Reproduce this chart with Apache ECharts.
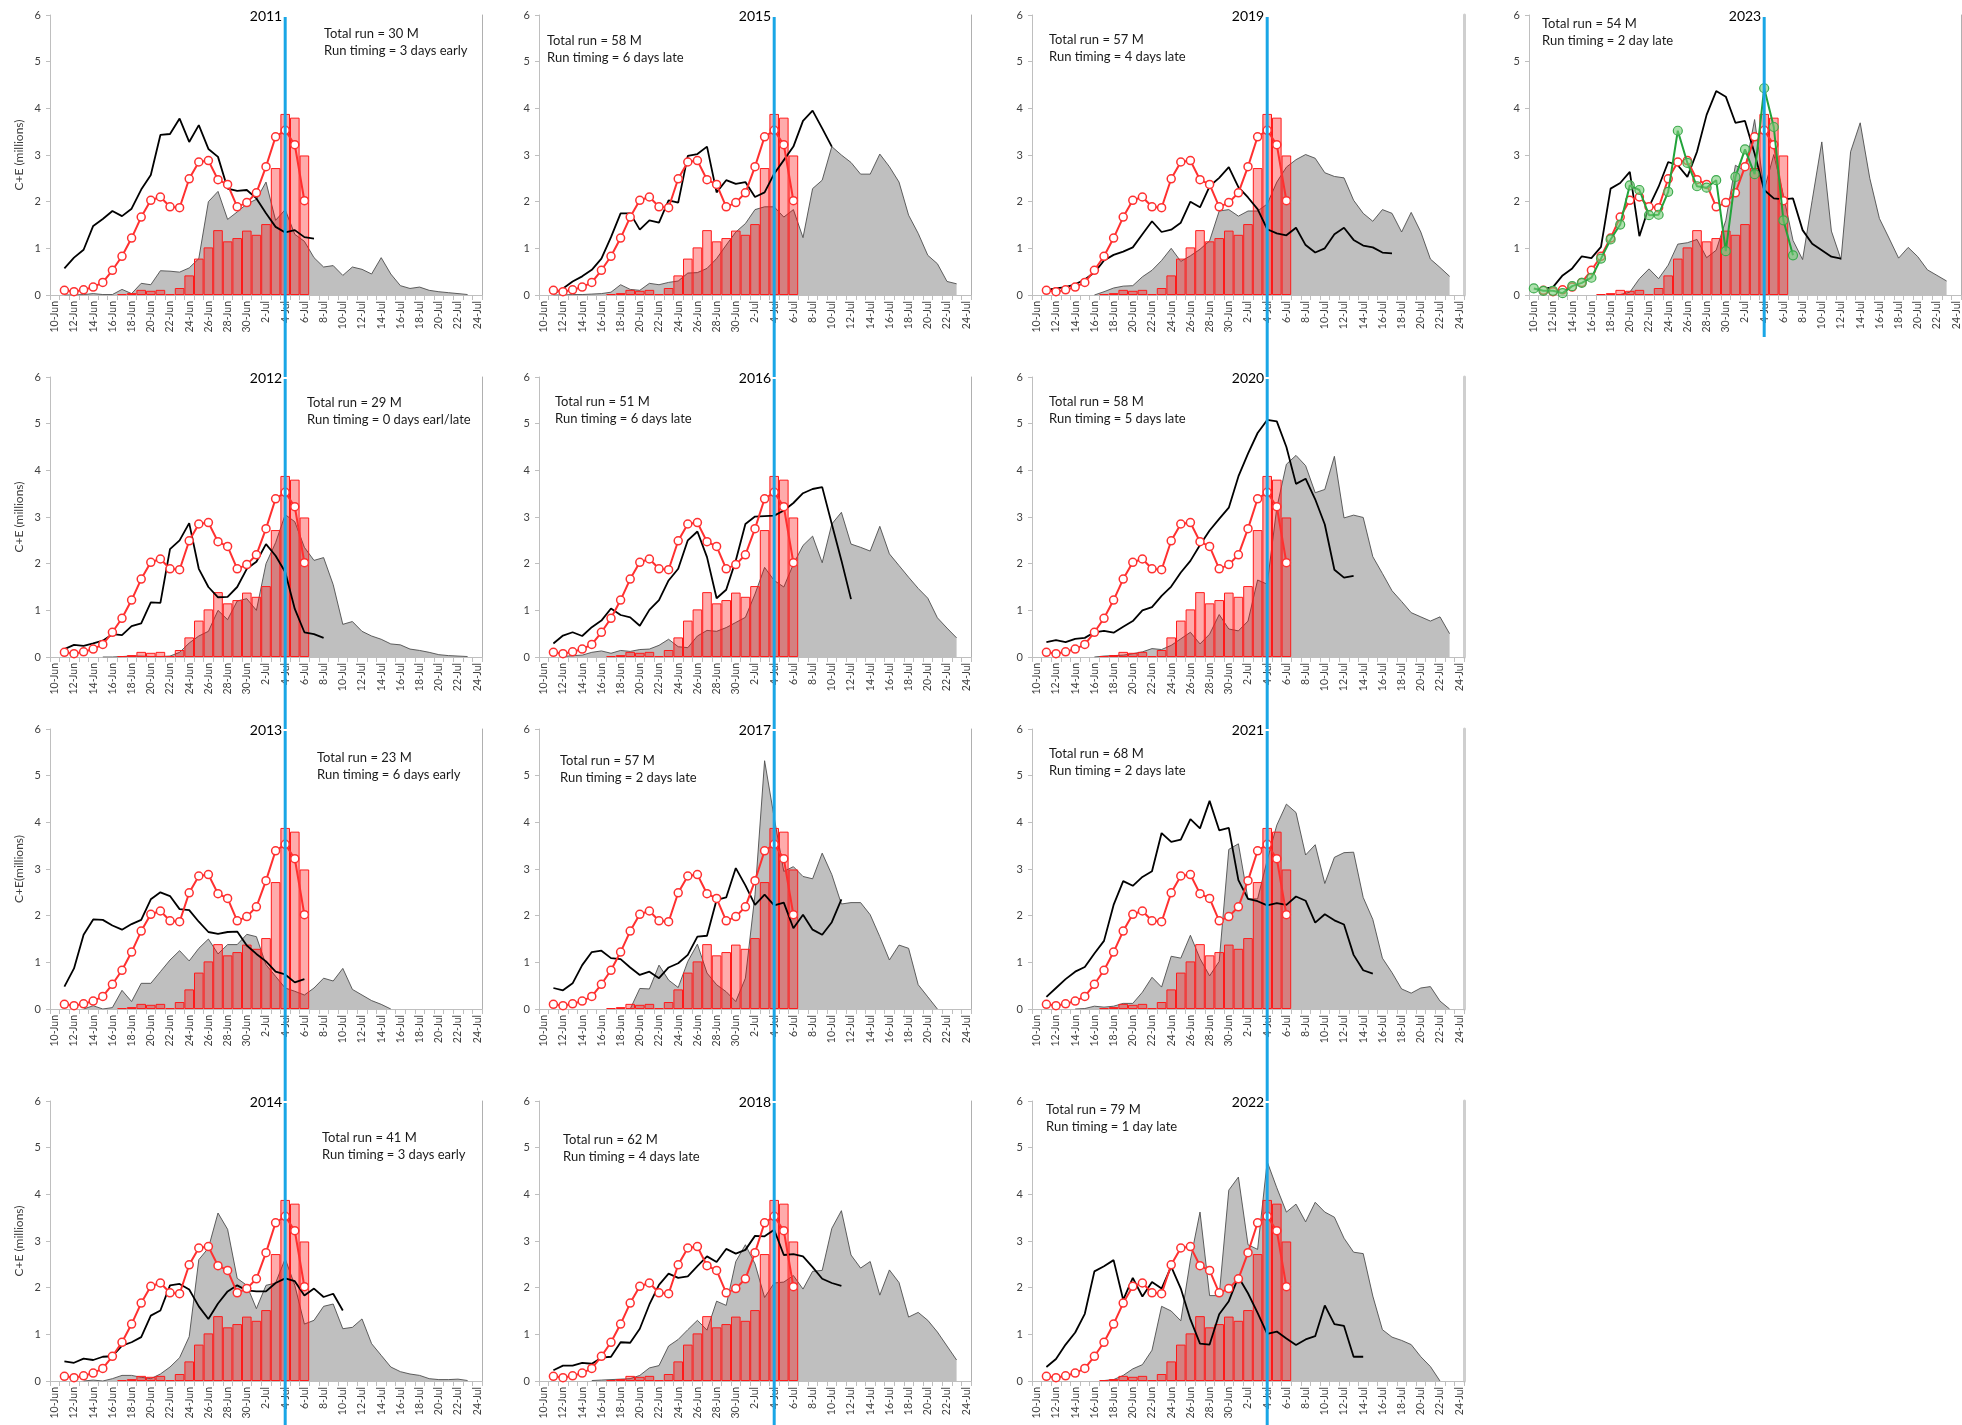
<!DOCTYPE html>
<html>
<head>
<meta charset="utf-8">
<script src="https://cdn.jsdelivr.net/npm/echarts@6/dist/echarts.min.js"></script>
<style>
html,body{margin:0;padding:0;background:#fff;}
#chart{width:1962px;height:1425px;}
</style>
</head>
<body>
<div id="chart"></div>
<script>
// ---------------- DATA ----------------
const categories = ['10-Jun','11-Jun','12-Jun','13-Jun','14-Jun','15-Jun','16-Jun','17-Jun','18-Jun','19-Jun','20-Jun','21-Jun','22-Jun','23-Jun','24-Jun','25-Jun','26-Jun','27-Jun','28-Jun','29-Jun','30-Jun','1-Jul','2-Jul','3-Jul','4-Jul','5-Jul','6-Jul','7-Jul','8-Jul','9-Jul','10-Jul','11-Jul','12-Jul','13-Jul','14-Jul','15-Jul','16-Jul','17-Jul','18-Jul','19-Jul','20-Jul','21-Jul','22-Jul','23-Jul','24-Jul'];
const refDate = '4-Jul';
const yMin = 0, yMax = 6, yStep = 1;

// average bars (same in every panel)
const barAvg = [null,null,null,null,null,null,null,0.02,0.04,0.11,0.09,0.11,0.02,0.15,0.42,0.78,1.02,1.39,1.15,1.22,1.38,1.29,1.52,2.72,3.88,3.80,2.99];
// average line with open circles (same in every panel)
const redAvg = [null,0.10,0.07,0.11,0.17,0.27,0.53,0.83,1.22,1.67,2.03,2.10,1.89,1.87,2.49,2.85,2.88,2.47,2.37,1.89,1.98,2.19,2.75,3.39,3.53,3.22,2.02];

const grey2011 = [null,0,0,0.01,0.03,0.01,0.01,0.12,0.03,0.25,0.22,0.52,0.51,0.49,0.58,0.78,2.0,2.22,1.62,1.78,1.95,2.05,2.42,1.6,1.83,1.3,1.15,0.8,0.6,0.63,0.42,0.6,0.55,0.45,0.8,0.45,0.2,0.14,0.17,0.1,0.07,0.05,0.03,0.01];
const black2011 = [null,0.57,0.80,0.97,1.48,1.63,1.80,1.69,1.85,2.26,2.57,3.43,3.45,3.78,3.28,3.64,3.13,2.96,2.28,2.23,2.25,2.07,1.75,1.46,1.34,1.39,1.24,1.21];

const grey2012 = [null,null,null,null,null,0,0,0.01,0.02,0.02,0.01,0.01,0.02,0.1,0.3,0.45,0.55,1.0,0.8,1.2,1.25,1.0,2.0,2.45,3.05,2.9,2.35,2.07,2.13,1.55,0.7,0.76,0.55,0.45,0.38,0.28,0.26,0.17,0.14,0.1,0.05,0.03,0.02,0.01];
const black2012 = [null,0.17,0.26,0.24,0.29,0.35,0.49,0.47,0.66,0.72,1.17,1.16,2.31,2.5,2.87,1.89,1.5,1.28,1.29,1.5,1.89,2.04,2.42,2.17,1.82,1.03,0.53,0.49,0.41];

const grey2013 = [null,null,null,0,0.07,0,0.03,0.4,0.16,0.55,0.55,0.8,1.05,1.25,1.03,1.3,1.5,1.18,1.38,1.38,1.6,1.55,0.95,0.7,0.45,0.38,0.3,0.45,0.66,0.6,0.87,0.42,0.3,0.18,0.1,0];
const black2013 = [null,0.48,0.87,1.59,1.92,1.91,1.79,1.7,1.82,1.91,2.35,2.5,2.42,2.14,2.12,1.87,1.65,1.61,1.65,1.66,1.36,1.18,1.02,0.8,0.74,0.57,0.64];

const grey2014 = [null,null,null,0,0.02,0,0.05,0.12,0.12,0.08,0.05,0.15,0.3,0.5,0.95,2.6,2.85,3.6,3.25,2.2,2.05,1.55,2.05,2.1,2.62,2.05,1.22,1.3,1.6,1.65,1.12,1.15,1.33,0.8,0.55,0.3,0.2,0.15,0.12,0.05,0.03,0.03,0.04,0.01];
const black2014 = [null,0.42,0.39,0.48,0.45,0.52,0.53,0.76,0.83,0.94,1.4,1.51,2.05,2.08,1.96,1.6,1.33,1.66,1.92,2.05,1.94,1.92,1.92,2.1,2.2,2.14,1.83,1.98,1.8,1.87,1.51];

const grey2015 = [null,0,0,0.01,0.01,0.02,0.03,0.06,0.22,0.12,0.1,0.25,0.22,0.27,0.3,0.47,0.48,0.57,0.78,1.07,1.35,1.53,1.83,1.89,1.89,1.67,1.83,1.23,2.28,2.46,3.18,3.0,2.84,2.59,2.59,3.02,2.75,2.42,1.71,1.32,0.85,0.67,0.29,0.24];
const black2015 = [null,0.03,0.14,0.29,0.4,0.54,0.78,1.24,1.75,1.75,1.4,1.6,1.55,2.03,1.98,2.98,3.02,3.18,2.2,2.46,2.38,2.42,2.1,2.2,2.6,2.89,3.18,3.73,3.95,3.57,3.18];

const grey2016 = [null,null,0.01,0.03,0.04,0.1,0.13,0.08,0.14,0.12,0.16,0.17,0.25,0.38,0.22,0.2,0.45,0.57,0.55,0.63,0.74,0.85,1.35,1.92,1.64,1.5,1.99,2.39,2.59,2.02,2.85,3.1,2.42,2.35,2.27,2.8,2.21,1.96,1.71,1.47,1.26,0.84,0.62,0.41];
const black2016 = [null,0.29,0.46,0.53,0.45,0.64,0.78,1.04,0.9,0.85,0.67,1.01,1.22,1.64,1.89,2.5,2.69,2.14,1.26,1.44,2.07,2.85,3.01,3.02,3.03,3.14,3.3,3.51,3.6,3.64,2.85,2.07,1.24];

const grey2017 = [null,null,null,null,null,null,null,null,null,0,0.44,0.43,0.94,0.62,0.46,1.02,1.39,0.77,0.52,0.37,0.16,0.66,2.45,5.32,4.1,2.95,3.05,2.84,2.79,3.34,2.88,2.25,2.28,2.28,2.02,1.55,1.05,1.37,1.3,0.52,0.26,0];
const black2017 = [null,0.45,0.4,0.55,0.94,1.22,1.25,1.09,1.07,0.89,0.73,0.8,0.66,0.89,0.98,1.16,1.55,1.57,2.34,2.39,3.02,2.65,2.23,2.45,2.22,2.28,1.73,2.02,1.7,1.59,1.86,2.35];

const grey2018 = [null,null,null,null,null,0.01,0.02,0.03,0.04,0.05,0.12,0.28,0.33,0.75,0.89,1.1,1.3,1.09,1.71,1.62,2.56,2.92,2.51,1.79,2.1,2.12,2.26,1.97,2.35,2.37,3.27,3.65,2.7,2.42,2.56,1.84,2.38,2.11,1.37,1.47,1.3,1.05,0.75,0.45];
const black2018 = [null,0.23,0.33,0.33,0.39,0.37,0.5,0.52,0.83,0.82,1.12,1.64,2.06,2.3,2.21,2.24,2.46,2.67,2.55,2.83,2.73,2.81,3.11,3.1,3.24,2.7,2.72,2.67,2.44,2.19,2.1,2.04];

const grey2019 = [null,null,null,null,null,null,0,0.07,0.15,0.19,0.2,0.39,0.53,0.74,1.0,0.72,0.84,0.98,1.16,1.8,1.83,1.69,1.8,1.8,1.95,2.42,2.74,2.9,3.01,2.93,2.62,2.54,2.51,2.03,1.75,1.58,1.83,1.75,1.35,1.77,1.35,0.77,0.59,0.4];
const black2019 = [null,0.11,0.14,0.17,0.23,0.33,0.48,0.74,0.86,0.93,1.02,1.3,1.58,1.35,1.4,1.55,2.0,1.88,2.33,2.51,2.74,2.31,2.09,1.84,1.41,1.32,1.28,1.44,1.07,0.91,1.0,1.3,1.44,1.18,1.06,1.02,0.91,0.89];

const grey2020 = [null,null,null,null,null,null,0,0.02,0.03,0.04,0.07,0.11,0.18,0.16,0.25,0.39,0.53,0.28,0.49,0.91,0.6,0.56,0.77,1.65,1.56,3.2,4.13,4.32,4.1,3.52,3.59,4.3,2.98,3.04,2.99,2.15,1.79,1.42,1.19,0.95,0.86,0.77,0.86,0.5];
const black2020 = [null,0.32,0.36,0.32,0.39,0.41,0.53,0.56,0.52,0.65,0.77,1.0,1.07,1.31,1.51,1.81,2.06,2.4,2.71,2.96,3.2,3.87,4.36,4.8,5.08,5.05,4.5,3.71,3.82,3.38,2.84,1.87,1.7,1.74];

const grey2021 = [null,null,null,null,0,0.01,0.06,0.04,0.06,0.12,0.12,0.36,0.68,0.47,1.13,1.09,1.58,1.08,0.71,1.02,3.42,3.54,2.36,2.36,3.19,3.94,4.39,4.21,3.3,3.52,2.69,3.25,3.35,3.36,2.39,1.92,1.09,0.78,0.43,0.34,0.45,0.48,0.17,0];
const black2021 = [null,0.26,0.45,0.64,0.8,0.9,1.19,1.46,2.23,2.74,2.64,2.83,2.95,3.77,3.58,3.63,4.07,3.87,4.46,3.83,3.88,2.76,2.36,2.31,2.22,2.27,2.23,2.41,2.32,1.85,2.03,1.9,1.81,1.16,0.83,0.76];

const grey2022 = [null,null,null,null,null,null,null,0.01,0.03,0.12,0.26,0.35,0.66,1.6,1.5,1.29,2.59,3.62,1.83,1.83,4.09,4.37,2.92,2.82,4.7,4.14,3.62,3.79,3.41,3.83,3.62,3.51,3.06,2.76,2.73,1.82,1.1,0.94,0.87,0.78,0.52,0.31,0];
const black2022 = [null,0.3,0.47,0.78,1.04,1.44,2.35,2.46,2.59,1.74,2.21,1.81,2.12,1.98,2.45,1.98,1.32,0.8,0.78,1.43,1.71,2.23,1.88,1.46,1.01,1.06,0.91,0.77,0.89,0.96,1.62,1.22,1.18,0.52,0.52];

const grey2023 = [null,null,null,null,null,null,null,null,null,0.01,0.06,0.35,0.56,0.35,0.64,1.09,1.12,1.19,0.8,0.96,1.6,2.78,2.66,3.76,2.25,3.01,2.14,1.17,0.76,2.03,3.28,1.37,0.76,3.07,3.69,2.5,1.64,1.22,0.79,1.02,0.82,0.54,0.42,0.3];
const black2023 = [null,0.13,0.17,0.42,0.57,0.83,0.79,1.03,2.28,2.4,2.64,1.26,1.89,2.32,2.85,2.78,2.53,3.07,3.86,4.37,4.25,3.69,3.73,3.03,2.25,2.07,2.05,2.07,1.39,1.1,0.96,0.82,0.78];
const green2023 = [0.14,0.09,0.09,0.04,0.19,0.26,0.37,0.78,1.19,1.51,2.35,2.25,1.71,1.72,2.21,3.52,2.83,2.33,2.3,2.46,0.94,2.53,3.12,2.59,4.43,3.6,1.6,0.85];

const years = ['2011','2012','2013','2014','2015','2016','2017','2018','2019','2020','2021','2022','2023'];
const totalRun = ['30','29','23','41','58','51','57','62','57','58','68','79','54'];
const runTiming = ['3 days early','0 days earl/late','6 days early','3 days early','6 days late','6 days late','2 days late','4 days late','4 days late','5 days late','2 days late','1 day late','2 day late'];
const yAxisNames = ['C+E (millions)','C+E (millions)','C+E(millions)','C+E (millions)'];

// ---------------- LAYOUT ----------------
const greyByYear = [grey2011,grey2012,grey2013,grey2014,grey2015,grey2016,grey2017,grey2018,grey2019,grey2020,grey2021,grey2022,grey2023];
const blackByYear = [black2011,black2012,black2013,black2014,black2015,black2016,black2017,black2018,black2019,black2020,black2021,black2022,black2023];

const colLeft = [50, 539, 1032, 1529];
const rowTop = [15, 377, 729, 1101];
const gridW = 432, gridH = 280;
// panel placement (column,row) and note offsets
const place = [
  [0,0,274,10],[0,1,257,17],[0,2,267,20],[0,3,272,28],
  [1,0,8,17],[1,1,16,16],[1,2,21,23],[1,3,24,30],
  [2,0,17,16],[2,1,17,16],[2,2,17,16],[2,3,14,0],
  [3,0,13,0]
];
const FONT = 'Lato, "Open Sans", "Liberation Sans", sans-serif';
const refIndex = categories.indexOf(refDate);

const grids = [], xAxes = [], yAxes = [], series = [], graphics = [];

years.forEach((yr, i) => {
  const [c, r, nx, ny] = place[i];
  const left = colLeft[c], top = rowTop[r];
  let ext;
  if (c === 3) ext = 42;
  else if (r < 3) ext = rowTop[r+1] - (top + gridH);
  else ext = 1425 - (top + gridH);

  grids.push({left: left, top: top, width: gridW, height: gridH});
  xAxes.push({
    type: 'category', gridIndex: i, data: categories, boundaryGap: true,
    axisLine: {lineStyle: {color: '#BFBFBF', width: 1}},
    axisTick: {show: true, interval: 0, length: 5, lineStyle: {color: '#BFBFBF'}},
    axisLabel: {interval: 1, rotate: 90, fontSize: 10.5, color: '#404040', margin: 6, fontFamily: FONT},
    splitLine: {show: false}
  });
  yAxes.push({
    type: 'value', gridIndex: i, min: yMin, max: yMax, interval: yStep, position: 'left',
    name: c === 0 ? yAxisNames[r] : '',
    nameLocation: 'middle', nameGap: 25,
    nameTextStyle: {fontSize: 12, color: '#404040', fontFamily: FONT},
    axisLine: {show: true, lineStyle: {color: '#BFBFBF'}},
    axisTick: {show: true, length: 4, lineStyle: {color: '#BFBFBF'}},
    axisLabel: {fontSize: 11, color: '#404040', margin: 9, fontFamily: FONT},
    splitLine: {show: false}
  });
  yAxes.push({
    type: 'value', gridIndex: i, min: yMin, max: yMax, interval: yStep, position: 'right',
    axisLine: {show: true, lineStyle: {color: c === 2 ? '#CFCFCF' : '#B0B0B0', width: c === 2 ? 3 : 1}},
    axisTick: {show: false}, axisLabel: {show: false}, splitLine: {show: false}
  });
  const yIdx = i * 2;

  series.push({
    type: 'line', xAxisIndex: i, yAxisIndex: yIdx, data: greyByYear[i],
    symbol: 'none', z: 1,
    lineStyle: {color: '#4D4D4D', width: 0.9},
    areaStyle: {color: '#BFBFBF', opacity: 1}
  });
  series.push({
    type: 'bar', xAxisIndex: i, yAxisIndex: yIdx, data: barAvg, z: 2,
    barWidth: '100%',
    itemStyle: {color: 'rgba(255,0,0,0.33)', borderColor: '#FF1A1A', borderWidth: 1}
  });
  series.push({
    type: 'line', xAxisIndex: i, yAxisIndex: yIdx, data: blackByYear[i],
    symbol: 'none', z: 3,
    lineStyle: {color: '#000000', width: 1.8}
  });
  series.push({
    type: 'line', xAxisIndex: i, yAxisIndex: yIdx, data: redAvg,
    symbol: 'circle', symbolSize: 8, showAllSymbol: true, z: 4,
    lineStyle: {color: '#FF3030', width: 2},
    itemStyle: {color: '#FFFFFF', borderColor: '#FF3030', borderWidth: 1.5}
  });
  if (yr === '2023') {
    series.push({
      type: 'line', xAxisIndex: i, yAxisIndex: yIdx, data: green2023,
      symbol: 'circle', symbolSize: 9, showAllSymbol: true, z: 5,
      lineStyle: {color: '#22A33A', width: 2},
      itemStyle: {color: 'rgba(120,205,120,0.6)', borderColor: '#3DAA4D', borderWidth: 1.2}
    });
  }
  series.push({
    type: 'custom', xAxisIndex: i, yAxisIndex: yIdx, z: 10, clip: false,
    data: [[refIndex, yMin]],
    renderItem: (function (extLen) {
      return function (params, api) {
        const xi = api.value(0);
        const pTop = api.coord([xi, yMax]);
        const pBot = api.coord([xi, yMin]);
        return {
          type: 'line',
          shape: {x1: pTop[0], y1: pTop[1] + 2, x2: pBot[0], y2: pBot[1] + extLen},
          style: {stroke: '#1AA6E6', lineWidth: 3}
        };
      };
    })(ext)
  });

  graphics.push({
    type: 'text', x: left + gridW / 2, y: top + 1,
    style: {text: yr, fill: '#000', font: '14px ' + FONT, textAlign: 'center', textVerticalAlign: 'middle', align: 'center', verticalAlign: 'middle'},
    z: 20
  });
  graphics.push({
    type: 'text', x: left + nx, y: top + ny,
    style: {text: 'Total run = ' + totalRun[i] + ' M\nRun timing = ' + runTiming[i], fill: '#1A1A1A', font: '13px ' + FONT, lineHeight: 17.5},
    z: 20
  });
});

const chart = echarts.init(document.getElementById('chart'), null, {renderer: 'canvas'});
chart.setOption({
  backgroundColor: '#FFFFFF',
  animation: false,
  textStyle: {fontFamily: FONT},
  grid: grids,
  xAxis: xAxes,
  yAxis: yAxes,
  series: series,
  graphic: graphics
});
</script>
</body>
</html>
